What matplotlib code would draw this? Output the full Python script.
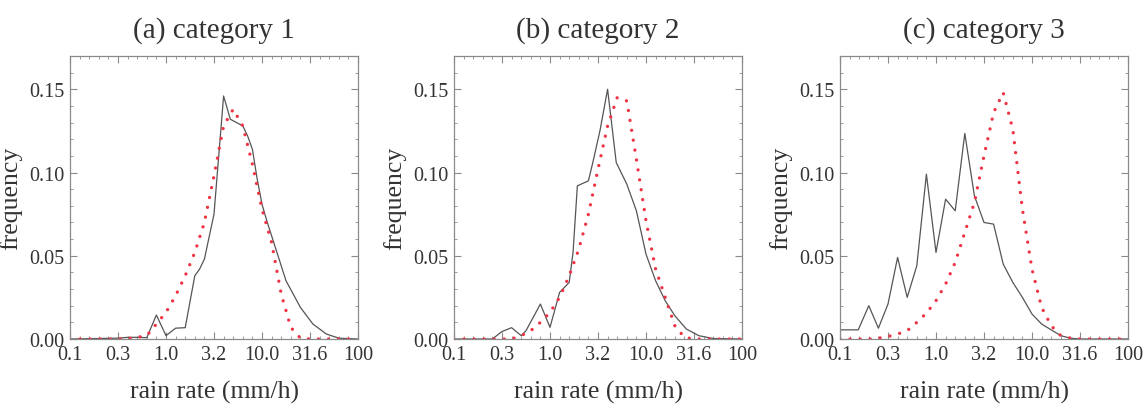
import numpy as np
import matplotlib.pyplot as plt
from matplotlib.ticker import FixedLocator, NullFormatter

plt.rcParams['font.family'] = ['Liberation Serif', 'DejaVu Serif']

# observed histograms: log10(rain rate) positions and frequency
obs1_logx = [-1.0, -0.5, -0.4, -0.3, -0.2, -0.1, 0.0, 0.1, 0.2, 0.3, 0.35, 0.4, 0.5, 0.6,
             0.67, 0.8, 0.85, 0.9, 0.95, 1.0, 1.05, 1.15, 1.25, 1.4, 1.53, 1.67, 1.8, 2.0]
obs1_freq = [0.0, 0.0005, 0.001, 0.001, 0.0008, 0.0144, 0.002, 0.0065, 0.0068, 0.038, 0.042, 0.048,
             0.075, 0.146, 0.132, 0.128, 0.122, 0.114, 0.096, 0.081, 0.071, 0.053, 0.035, 0.019,
             0.009, 0.003, 0.0005, 0.0]

obs2_logx = [-1.0, -0.6, -0.5, -0.4, -0.3, -0.25, -0.1, 0.0, 0.1, 0.15, 0.2, 0.24, 0.285, 0.4,
             0.45, 0.52, 0.6, 0.69, 0.8, 0.9, 1.0, 1.1, 1.2, 1.3, 1.42, 1.55, 1.7, 2.0]
obs2_freq = [0.0, 0.0, 0.0045, 0.0068, 0.002, 0.005, 0.021, 0.007, 0.028, 0.031, 0.034, 0.052, 0.092,
             0.095, 0.107, 0.125, 0.150, 0.106, 0.093, 0.077, 0.051, 0.035, 0.023, 0.014, 0.006,
             0.002, 0.0003, 0.0]

obs3_logx = [-1.0, -0.81, -0.7, -0.6, -0.5, -0.4, -0.3, -0.2, -0.1, 0.0, 0.1, 0.2, 0.3, 0.4,
             0.5, 0.6, 0.7, 0.8, 0.9, 1.0, 1.1, 1.2, 1.3, 1.4, 1.5, 2.0]
obs3_freq = [0.0055, 0.0055, 0.020, 0.0065, 0.021, 0.049, 0.025, 0.044, 0.099, 0.052, 0.084, 0.077,
             0.1235, 0.086, 0.070, 0.069, 0.045, 0.034, 0.025, 0.015, 0.009, 0.0055, 0.002, 0.0005,
             0.0, 0.0]

# fitted distributions on a 0.1-decade grid
fit_logx = np.linspace(-1, 2, 31)
fit1_freq = [0, 0, 0, 0, 0, 0, 0.0003, 0.001, 0.002, 0.009, 0.016, 0.026, 0.038, 0.052, 0.070,
             0.098, 0.128, 0.138, 0.128, 0.105, 0.078, 0.058, 0.027, 0.007, 0.0005, 0, 0, 0, 0, 0, 0]
fit2_freq = [0, 0, 0, 0, 0, 0, 0, 0.002, 0.005, 0.010, 0.016, 0.025, 0.038, 0.054, 0.075, 0.102,
             0.128, 0.145, 0.143, 0.108, 0.071, 0.042, 0.025, 0.008, 0.001, 0, 0, 0, 0, 0, 0]
fit3_freq = [0, 0, 0, 0, 0.0005, 0.0015, 0.003, 0.005, 0.010, 0.0155, 0.023, 0.033, 0.046, 0.064,
             0.082, 0.110, 0.136, 0.148, 0.126, 0.078, 0.042, 0.019, 0.008, 0.002, 0.0005, 0, 0, 0, 0, 0, 0]

titles = ['(a) category 1', '(b) category 2', '(c) category 3']
obs = [(obs1_logx, obs1_freq), (obs2_logx, obs2_freq), (obs3_logx, obs3_freq)]
fits = [fit1_freq, fit2_freq, fit3_freq]

xticks = [0.1, 10**-0.5, 1.0, 10**0.5, 10.0, 10**1.5, 100.0]
xticklabels = ['0.1', '0.3', '1.0', '3.2', '10.0', '31.6', '100']

fig = plt.figure(figsize=(11.45, 4.1), dpi=100)
lefts = [70 / 1145, 454 / 1145, 840 / 1145]
spine_col = '#8a8a8a'
text_col = '#333333'

for i in range(3):
    ax = fig.add_axes([lefts[i], 70 / 410, 288 / 1145, 283 / 410])
    lx, fy = obs[i]
    ax.plot(10 ** np.array(lx), fy, color='#555555', lw=0.9)
    ax.plot(10 ** fit_logx, fits[i], color='#ee3344', lw=2.4,
            linestyle=(0, (0.01, 3.0)), dash_capstyle='round')
    ax.set_xscale('log')
    ax.set_xlim(0.1, 100)
    ax.set_ylim(0, 0.17)
    ax.xaxis.set_major_locator(FixedLocator(xticks))
    ax.xaxis.set_minor_locator(FixedLocator(10 ** np.linspace(-1, 2, 31)))
    ax.xaxis.set_minor_formatter(NullFormatter())
    ax.set_xticks(xticks)
    ax.set_xticklabels(xticklabels)
    ax.set_yticks([0, 0.05, 0.10, 0.15])
    ax.set_yticklabels(['0.00', '0.05', '0.10', '0.15'])
    ax.yaxis.set_minor_locator(FixedLocator(np.arange(0, 0.171, 0.01)))
    ax.tick_params(which='both', direction='in', top=True, right=True, color=spine_col,
                   labelsize=14.5, labelcolor=text_col, pad=4)
    ax.tick_params(which='major', length=5, width=0.8)
    ax.tick_params(which='minor', length=2.5, width=0.6)
    for s in ax.spines.values():
        s.set_color(spine_col)
        s.set_linewidth(0.9)
    ax.set_title(titles[i], fontsize=21, color=text_col, pad=14)
    ax.set_xlabel('rain rate (mm/h)', fontsize=18.5, color=text_col, labelpad=12)
    ax.set_ylabel('frequency', fontsize=18.5, color=text_col, labelpad=5)

fig.savefig('out.png', dpi=100)
